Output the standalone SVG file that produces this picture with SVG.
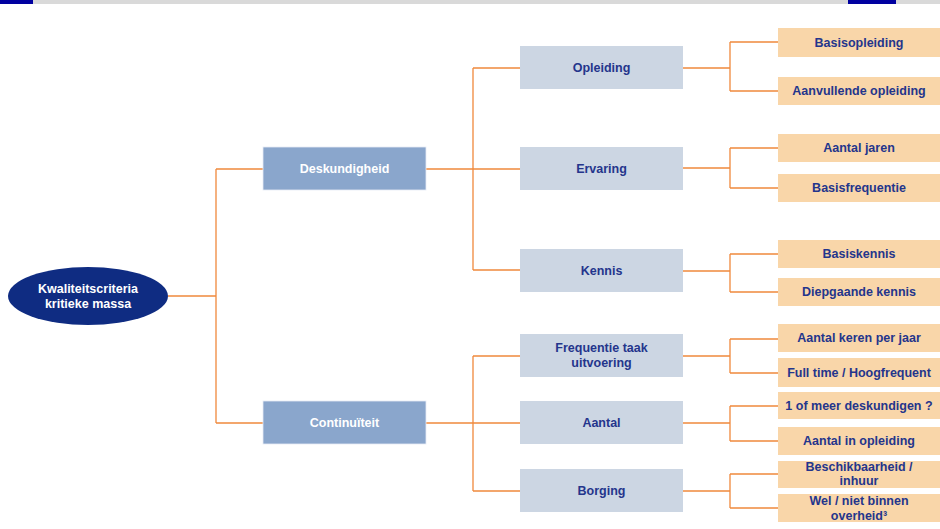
<svg xmlns="http://www.w3.org/2000/svg" width="940" height="529" viewBox="0 0 940 529">
<style>
text{font-family:"Liberation Sans",Arial,sans-serif;font-weight:bold;font-size:12.5px;text-anchor:middle;dominant-baseline:central}
.l1 rect{fill:#8aa6cc;stroke:#e6ecf4;stroke-width:0.8}
.l1 text{fill:#ffffff}
.l2 rect{fill:#ccd6e3}
.l2 text,.l3 text{fill:#24358c}
.l3 rect{fill:#f9d6a9}
#connectors path{fill:none;stroke:#f0893c;stroke-width:1.3}
</style>
<rect x="0" y="0" width="940" height="4" fill="#d9d9d9"/>
<rect x="0" y="0" width="33" height="4" fill="#0000a0"/>
<rect x="848" y="0" width="48" height="4" fill="#0000a0"/>
<g id="connectors">
<path d="M168 296H216M216 169V423M216 169H263M216 423H263"/>
<path d="M426 169H520M473 68V270M473 68H520M473 270H520"/>
<path d="M426 423H520M473 356V491M473 356H520M473 491H520"/>
<path d="M683 68H730M730 42V91M730 42H778M730 91H778"/>
<path d="M683 168H730M730 148V188M730 148H778M730 188H778"/>
<path d="M683 271H730M730 254V292M730 254H778M730 292H778"/>
<path d="M683 356H730M730 339V373M730 339H778M730 373H778"/>
<path d="M683 423H730M730 406V441M730 406H778M730 441H778"/>
<path d="M683 491H730M730 474V508M730 474H778M730 508H778"/>
</g>
<g id="root">
<ellipse cx="88" cy="296" rx="80" ry="29" fill="#0f2c82"/>
<text x="88" y="289" fill="#ffffff" font-size="12px">Kwaliteitscriteria</text>
<text x="88" y="304" fill="#ffffff" font-size="12px">kritieke massa</text>
</g>
<g id="deskundigheid" class="l1"><rect x="263" y="147" width="163" height="43"/><text x="344.5" y="169">Deskundigheid</text></g>
<g id="continuiteit" class="l1"><rect x="263" y="401" width="163" height="43"/><text x="344.5" y="423">Continuïteit</text></g>
<g id="opleiding" class="l2"><rect x="520" y="46" width="163" height="43"/><text x="601.5" y="68">Opleiding</text></g>
<g id="ervaring" class="l2"><rect x="520" y="147" width="163" height="43"/><text x="601.5" y="169">Ervaring</text></g>
<g id="kennis" class="l2"><rect x="520" y="249" width="163" height="43"/><text x="601.5" y="271">Kennis</text></g>
<g id="frequentie" class="l2"><rect x="520" y="334" width="163" height="43"/><text x="601.5" y="348">Frequentie taak</text><text x="601.5" y="363">uitvoering</text></g>
<g id="aantal" class="l2"><rect x="520" y="401" width="163" height="43"/><text x="601.5" y="423">Aantal</text></g>
<g id="borging" class="l2"><rect x="520" y="469" width="163" height="43"/><text x="601.5" y="491">Borging</text></g>
<g id="basisopleiding" class="l3"><rect x="778" y="28" width="162" height="29"/><text x="859" y="43">Basisopleiding</text></g>
<g id="aanvullende" class="l3"><rect x="778" y="77" width="162" height="28"/><text x="859" y="91">Aanvullende opleiding</text></g>
<g id="aantaljaren" class="l3"><rect x="778" y="134" width="162" height="28"/><text x="859" y="148">Aantal jaren</text></g>
<g id="basisfrequentie" class="l3"><rect x="778" y="174" width="162" height="28"/><text x="859" y="188">Basisfrequentie</text></g>
<g id="basiskennis" class="l3"><rect x="778" y="240" width="162" height="28"/><text x="859" y="254">Basiskennis</text></g>
<g id="diepgaande" class="l3"><rect x="778" y="278" width="162" height="28"/><text x="859" y="292">Diepgaande kennis</text></g>
<g id="aantalkeren" class="l3"><rect x="778" y="324" width="162" height="28"/><text x="859" y="338">Aantal keren per jaar</text></g>
<g id="fulltime" class="l3"><rect x="778" y="358" width="162" height="29"/><text x="859" y="373">Full time / Hoogfrequent</text></g>
<g id="meerdeskundigen" class="l3"><rect x="778" y="392" width="162" height="27"/><text x="859" y="406">1 of meer deskundigen ?</text></g>
<g id="aantalinopleiding" class="l3"><rect x="778" y="427" width="162" height="28"/><text x="859" y="441">Aantal in opleiding</text></g>
<g id="beschikbaarheid" class="l3"><rect x="778" y="461" width="162" height="27"/><text x="859" y="467">Beschikbaarheid /</text><text x="859" y="481">inhuur</text></g>
<g id="welniet" class="l3"><rect x="778" y="494" width="162" height="28"/><text x="859" y="501">Wel / niet binnen</text><text x="859" y="516">overheid³</text></g>
</svg>
